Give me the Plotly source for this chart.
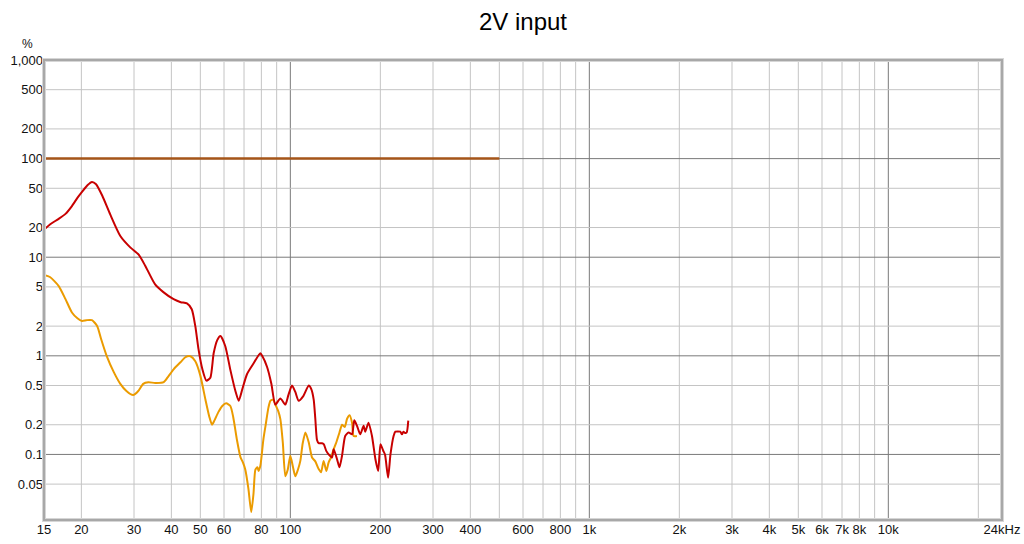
import plotly.graph_objects as go
import math

# ---------------- data ----------------
ref_f = [15, 500]
ref_v = [100, 100]

red_f = [15, 15.7, 16.8, 17.7, 18.6, 19.4, 20.1, 21.0, 21.7, 22.4, 23.5, 25.0, 27.0, 29.2, 31.1, 32.7,
         35.3, 37.7, 40.7, 43.0, 45.1, 46.8, 48.1, 49.3, 50.8, 52.4, 54.0, 55.4, 57.0, 58.4,
         60.6, 63.0, 65.5, 67.2, 69.1, 71.6, 75.0, 79.4, 80.5, 83.6, 86.4, 89.1, 92.6, 96.2,
         98.5, 101.3, 103.9, 106.6, 110.5, 115.2, 117.5, 119.7, 121.2, 122.8, 124.4, 127.6,
         129.3, 132.0, 134.3, 137.8, 139.6, 143.2, 146.0, 148.9, 152.6, 156.6, 160.8, 163.6,
         167.1, 171.3, 175.8, 178.0, 182.6, 187.5, 192.5, 196.7, 200.2, 204.5, 207.3, 212.3,
         216.2, 221.6, 224.5, 233.2, 236.2, 239.0, 242.0, 245.0, 248.0]
red_v = [19.0, 21.5, 24.5, 27.5, 33.0, 40.0, 46.0, 54.0, 58.0, 55.0, 42.0, 27.0, 16.4, 12.5, 10.6, 8.2,
         5.3, 4.4, 3.75, 3.5, 3.4, 2.97, 2.0, 1.17, 0.73, 0.56, 0.6, 1.06, 1.45, 1.59,
         1.25, 0.72, 0.44, 0.35, 0.46, 0.65, 0.82, 1.06, 1.0, 0.77, 0.52, 0.32, 0.37, 0.32,
         0.40, 0.50, 0.43, 0.35, 0.39, 0.50, 0.46, 0.36, 0.23, 0.14, 0.13, 0.13,
         0.127, 0.108, 0.10, 0.093, 0.113, 0.09, 0.074, 0.097, 0.154, 0.167, 0.16, 0.222,
         0.195, 0.16, 0.195, 0.17, 0.21, 0.154, 0.09, 0.068, 0.127, 0.109, 0.10, 0.058,
         0.10, 0.155, 0.17, 0.17, 0.16, 0.17, 0.165, 0.167, 0.22]

orange_f = [15, 15.7, 16.8, 17.7, 18.6, 19.4, 20.1, 20.8, 21.7, 22.6, 23.3, 24.3, 25.7, 27.0, 28.3,
            29.8, 31.0, 32.2, 33.5, 35.3, 37.7, 39.1, 40.7, 42.9, 44.6, 46.3, 48.1, 50.0, 52.0,
            53.6, 54.7, 55.7, 57.5, 59.2, 61.0, 63.0, 64.4, 66.3, 68.1, 69.4, 70.7, 72.4, 74.0,
            75.3, 76.4, 77.6, 78.3, 79.4, 81.2, 82.6, 84.5, 85.8, 87.7, 89.1, 91.1, 92.6, 94.4,
            96.2, 98.0, 100.0, 102.0, 103.9, 106.0, 108.0, 110.0, 112.3, 115.2, 118.2, 121.2,
            124.4, 126.7, 129.2, 132.0, 134.3, 137.0, 139.6, 142.2, 146.0, 148.9, 152.0, 154.8,
            157.8, 160.8, 162.8, 167.0]
orange_v = [6.6, 6.3, 5.1, 3.76, 2.75, 2.4, 2.26, 2.3, 2.3, 2.0, 1.47, 1.0, 0.68, 0.52, 0.44,
            0.40, 0.44, 0.52, 0.54, 0.53, 0.54, 0.62, 0.73, 0.86, 0.97, 0.99, 0.88, 0.63, 0.36,
            0.24, 0.20, 0.22, 0.27, 0.31, 0.33, 0.31, 0.24, 0.14, 0.094, 0.083, 0.07, 0.045, 0.026,
            0.04, 0.07, 0.074, 0.068, 0.077, 0.14, 0.195, 0.30, 0.35, 0.36, 0.32, 0.275, 0.228, 0.13,
            0.06, 0.07, 0.097, 0.075, 0.06, 0.07, 0.086, 0.13, 0.167, 0.133, 0.093, 0.085,
            0.071, 0.066, 0.086, 0.068, 0.083, 0.094, 0.113, 0.13, 0.167, 0.20, 0.19, 0.23,
            0.25, 0.21, 0.154, 0.154]

x_grid = [20, 30, 40, 50, 60, 70, 80, 90, 100, 200, 300, 400, 500, 600, 700, 800, 900,
          1000, 2000, 3000, 4000, 5000, 6000, 7000, 8000, 9000, 10000, 20000]
x_label_vals = [15, 20, 30, 40, 50, 60, 80, 100, 200, 300, 400, 600, 800,
                1000, 2000, 3000, 4000, 5000, 6000, 7000, 8000, 10000, 24000]
x_label_text = ["15", "20", "30", "40", "50", "60", "80", "100", "200", "300", "400", "600", "800",
                "1k", "2k", "3k", "4k", "5k", "6k", "7k", "8k", "10k", "24kHz"]
y_vals = [1000, 500, 200, 100, 50, 20, 10, 5, 2, 1, 0.5, 0.2, 0.1, 0.05]
y_text = ["1,000", "500", "200", "100", "50", "20", "10", "5", "2", "1", "0.5", "0.2", "0.1", "0.05"]
x_decades = [100, 1000, 10000]
y_decades = [0.1, 1, 10, 100]

title = "2V input"
y_unit = "%"

# ---------------- figure ----------------
fig = go.Figure()

fig.add_trace(go.Scatter(x=orange_f, y=orange_v, mode="lines",
                         line=dict(color="rgb(235,155,0)", width=2, shape="spline", smoothing=0.6),
                         hoverinfo="skip", showlegend=False))
fig.add_trace(go.Scatter(x=red_f, y=red_v, mode="lines",
                         line=dict(color="rgb(200,0,0)", width=2, shape="spline", smoothing=0.6),
                         hoverinfo="skip", showlegend=False))
fig.add_trace(go.Scatter(x=ref_f, y=ref_v, mode="lines",
                         line=dict(color="rgb(165,85,25)", width=2.5),
                         hoverinfo="skip", showlegend=False))

for xv in x_grid:
    dark = xv in x_decades
    fig.add_shape(type="line", xref="x", yref="paper", x0=xv, x1=xv, y0=0, y1=1,
                  line=dict(color="#7a7a7a" if dark else "#c4c4c4", width=1), layer="below")
for yv in y_vals:
    dark = yv in y_decades
    fig.add_shape(type="line", xref="paper", yref="y", x0=0, x1=1, y0=yv, y1=yv,
                  line=dict(color="#7a7a7a" if dark else "#c4c4c4", width=1), layer="below")

# frame
fig.add_shape(type="rect", xref="paper", yref="paper", x0=0, x1=1, y0=0, y1=1,
              line=dict(color="#d6d6d6", width=4), layer="above")
fig.add_shape(type="rect", xref="paper", yref="paper", x0=0, x1=1, y0=0, y1=1,
              line=dict(color="#a8a8a8", width=2), layer="above")

fig.add_annotation(text=y_unit, xref="paper", yref="paper", x=-0.009, y=1.0, yshift=16,
                   xanchor="right", yanchor="middle", showarrow=False,
                   font=dict(size=12, color="#111"))

fig.update_layout(
    width=1024, height=544,
    margin=dict(l=44, r=22, t=60, b=24, autoexpand=False),
    paper_bgcolor="white", plot_bgcolor="white",
    font=dict(family="Liberation Sans, Arial, sans-serif", size=13, color="#111"),
    title=dict(text=title, x=0.5, xanchor="center", xref="paper",
               y=1 - 22 / 544, yref="container", yanchor="middle",
               font=dict(size=24, color="#000")),
    xaxis=dict(type="log", range=[math.log10(15), math.log10(24000)],
               tickmode="array", tickvals=x_label_vals, ticktext=x_label_text,
               showgrid=False, zeroline=False, ticks="", showline=False, automargin=False),
    yaxis=dict(type="log", range=[-1.665, 3],
               tickmode="array", tickvals=y_vals, ticktext=y_text,
               showgrid=False, zeroline=False, ticks="", showline=False, automargin=False),
)

fig.write_html("out.html", config={"displayModeBar": False},
               post_script="document.body.style.margin='0';")
